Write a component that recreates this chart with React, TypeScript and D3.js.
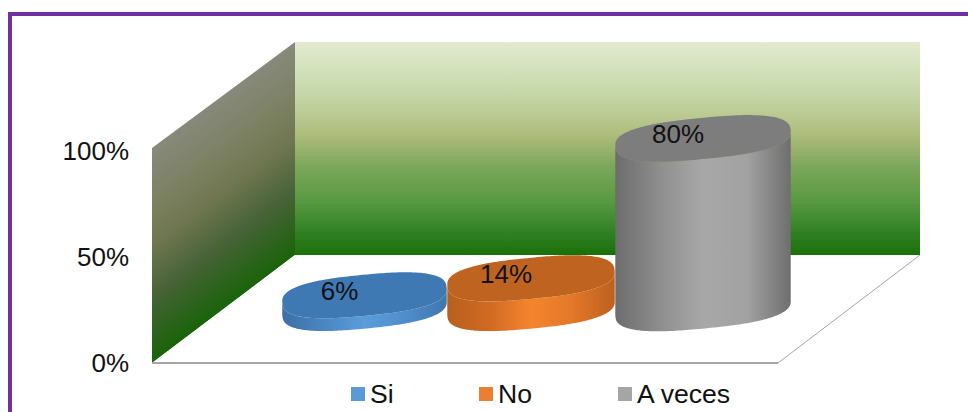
import React from "react";
import * as d3 from "d3";

// Survey answers shown as 3D cylinders
const categories = ["Si", "No", "A veces"];
const percentages = [6, 14, 80];
const valueTicks = [0, 50, 100];
const topColors = ["#3f79b3", "#bf6420", "#7d7d7d"];
const legendColors = ["#5b9bd5", "#ed7d31", "#a5a5a5"];
const sideStops = [
  ["#3c70a6", "#4a86c2", "#5a9ddb", "#4f8dca", "#3f76ae"],
  ["#b85f1e", "#d06a22", "#f5842e", "#e27828", "#bd601f"],
  ["#6c6c6c", "#8e8e8e", "#a8a8a8", "#a2a2a2", "#6e6e6e"],
];

const W = 968;
const H = 412;
const FONT = "'Liberation Sans', Arial, sans-serif";

// Projected box: front-left corner, back-left corner, back-right, front-right
const frontX = 152;
const backX = 295;
const backRight = 920;
const frontRight = 778;
const floorFront = 363;
const floorBack = 255;
const wallTopFront = 148;
const wallTopBack = 42;

const y = d3.scaleLinear().domain([0, 100]).range([floorFront, 151]);
// Slots widen slightly towards the right because of the perspective
const slot = d3.scaleLinear().domain([0, 1, 2, 3]).range([282, 447, 615, 791]);

const tilt = (-5.5 * Math.PI) / 180;
const baseY = 308;
const ry = 20.5;
const roundness = 0.76;

type Pt = [number, number];
const pow = (v: number) => Math.sign(v) * Math.pow(Math.abs(v), roundness);
const rimPoint = (cx: number, cy: number, a: number, t: number): Pt => {
  const u = a * pow(Math.cos(t));
  const v = ry * pow(Math.sin(t));
  return [
    cx + u * Math.cos(tilt) - v * Math.sin(tilt),
    cy + u * Math.sin(tilt) + v * Math.cos(tilt),
  ];
};
const curve = d3.line();
const angles = d3.range(0, 240).map((k) => (k / 240) * 2 * Math.PI);

function Cylinder({ i }: { i: number }) {
  const left = slot(i);
  const a = (slot(i + 1) - left) / 2;
  const cx = left + a;
  const h = y(0) - y(percentages[i]);
  const topY = baseY - h;
  // Silhouette runs between the rightmost and leftmost rim points
  const rim = angles.map((t) => rimPoint(cx, 0, a, t));
  const r = d3.greatestIndex(rim, (p) => p[0]);
  const l = d3.leastIndex(rim, (p) => p[0]);
  const span = (l - r + rim.length) % rim.length;
  const lowerArc = d3.range(0, span + 1).map((k) => rim[(r + k) % rim.length]);
  const lower = lowerArc.map(([px, py]): Pt => [px, py + baseY]);
  const upper = lowerArc
    .slice()
    .reverse()
    .map(([px, py]): Pt => [px, py + topY]);
  const cap = rim.map(([px, py]): Pt => [px, py + topY]);
  return (
    <g>
      <path d={curve([...lower, ...upper]) + "Z"} fill={`url(#side${i})`} />
      <path d={curve(cap) + "Z"} fill={topColors[i]} />
      <text
        x={cx - 25}
        y={topY + 5}
        fontFamily={FONT}
        fontSize={26}
        textAnchor="middle"
        fill="#111"
      >
        {percentages[i]}%
      </text>
    </g>
  );
}

export default function App() {
  const wallPts: Pt[] = [
    [frontX, wallTopFront],
    [backX, wallTopBack],
    [backX, floorBack],
    [frontX, floorFront],
  ];
  const floorPts: Pt[] = [
    [frontX, floorFront],
    [backX, floorBack],
    [backRight, floorBack],
    [frontRight, floorFront],
  ];
  const legendX = [351, 479, 618];
  return (
    <svg
      width={W}
      height={H}
      viewBox={`0 0 ${W} ${H}`}
      style={{ position: "fixed", left: 0, top: 0, background: "#fff" }}
    >
      <defs>
        <linearGradient id="backWall" x1="0" y1="0" x2="0" y2="1">
          <stop offset="0" stopColor="#e4e9d0" />
          <stop offset="0.12" stopColor="#d3e2bd" />
          <stop offset="0.27" stopColor="#c3d4a3" />
          <stop offset="0.43" stopColor="#afbd7d" />
          <stop offset="0.59" stopColor="#7ba65a" />
          <stop offset="0.74" stopColor="#5a9a42" />
          <stop offset="0.9" stopColor="#2f7f22" />
          <stop offset="1" stopColor="#1a7008" />
        </linearGradient>
        {/* Bands of colour run parallel to the wall's slanted top edge */}
        <linearGradient
          id="sideWall"
          gradientUnits="userSpaceOnUse"
          x1={frontX}
          y1={wallTopFront}
          x2={255}
          y2={287}
        >
          <stop offset="0" stopColor="#87897c" />
          <stop offset="0.25" stopColor="#7d8163" />
          <stop offset="0.45" stopColor="#6f7650" />
          <stop offset="0.7" stopColor="#466236" />
          <stop offset="1" stopColor="#186408" />
        </linearGradient>
        {sideStops.map((stops, i) => (
          <linearGradient id={`side${i}`} key={i} x1="0" y1="0" x2="1" y2="0">
            {stops.map((c, k) => (
              <stop key={k} offset={k / (stops.length - 1)} stopColor={c} />
            ))}
          </linearGradient>
        ))}
      </defs>

      {/* Purple frame, open towards the right and bottom edges */}
      <path d={`M10 ${H}V14H${W}`} fill="none" stroke="#7030a0" strokeWidth={4} />

      <path d={curve(wallPts) + "Z"} fill="url(#sideWall)" />
      <rect
        x={backX}
        y={wallTopBack}
        width={backRight - backX}
        height={floorBack - wallTopBack}
        fill="url(#backWall)"
      />
      <path d={curve(floorPts) + "Z"} fill="#fff" />
      <line x1={frontX} x2={frontRight} y1={floorFront} y2={floorFront} stroke="#a6a6a6" strokeWidth={2} />
      <line x1={frontRight} x2={backRight} y1={floorFront} y2={floorBack} stroke="#a6a6a6" strokeWidth={1} />

      {valueTicks.map((v) => (
        <text
          key={v}
          x={129}
          y={y(v) + 9}
          textAnchor="end"
          fontFamily={FONT}
          fontSize={26}
          fill="#111"
        >
          {v}%
        </text>
      ))}

      {categories.map((_, i) => (
        <Cylinder key={i} i={i} />
      ))}

      {categories.map((name, i) => (
        <g key={name}>
          <rect x={legendX[i]} y={387} width={14} height={14} fill={legendColors[i]} />
          <text x={legendX[i] + 19} y={403} fontFamily={FONT} fontSize={26.6} fill="#111">
            {name}
          </text>
        </g>
      ))}
    </svg>
  );
}
